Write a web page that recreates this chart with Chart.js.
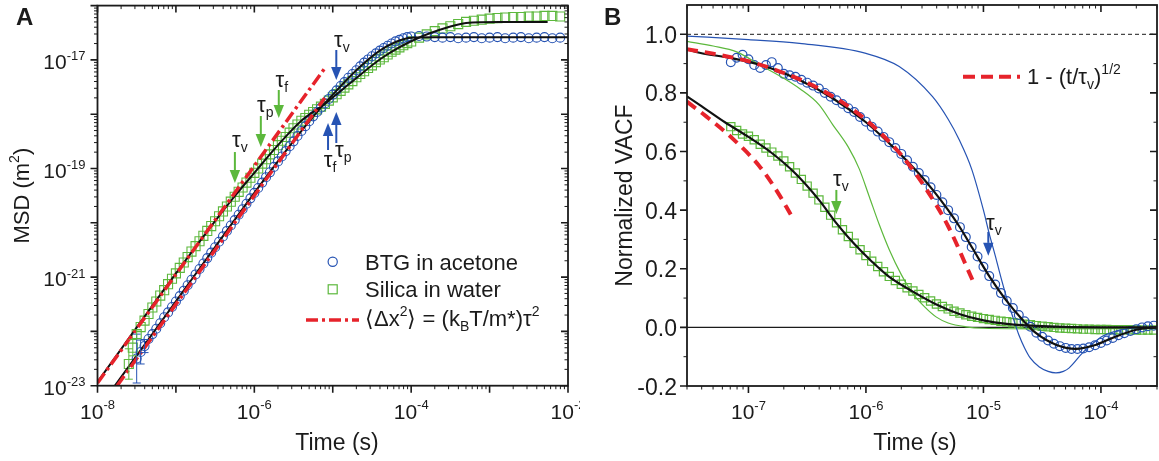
<!DOCTYPE html>
<html>
<head>
<meta charset="utf-8">
<title>MSD and VACF</title>
<script src="https://cdn.jsdelivr.net/npm/chart.js@4.4.1/dist/chart.umd.min.js"></script>
<style>
  html, body { margin: 0; padding: 0; background: #fff; }
  #wrap { position: relative; width: 1159px; height: 461px; overflow: hidden; }
  canvas { position: absolute; top: 0; }
  #msdChart { left: 0; }
  #vacfChart { left: 580px; }
</style>
</head>
<body>
<div id="wrap">
  <canvas id="msdChart" width="580" height="461"></canvas>
  <canvas id="vacfChart" width="579" height="461"></canvas>
</div>
<script>
const FONT = '"Liberation Sans", Arial, Helvetica, sans-serif';
const BLUE = '#2653b3';
const GREEN = '#5cb83c';
const RED = '#e6232b';
const INK = '#1b1b1b';

// ---------- Panel A: MSD ----------
const msdTime = [
  2.51e-8, 2.82e-8, 3.16e-8, 3.55e-8, 3.98e-8, 4.47e-8, 5.01e-8, 5.62e-8, 6.31e-8, 7.08e-8, 7.94e-8, 8.91e-8,
  1.00e-7, 1.12e-7, 1.26e-7, 1.41e-7, 1.58e-7, 1.78e-7, 2.00e-7, 2.24e-7, 2.51e-7, 2.82e-7,
  3.16e-7, 3.55e-7, 3.98e-7, 4.47e-7, 5.01e-7, 5.62e-7, 6.31e-7, 7.08e-7, 7.94e-7, 8.91e-7,
  1.00e-6, 1.12e-6, 1.26e-6, 1.41e-6, 1.58e-6, 1.78e-6, 2.00e-6, 2.24e-6, 2.51e-6, 2.82e-6,
  3.16e-6, 3.55e-6, 3.98e-6, 4.47e-6, 5.01e-6, 5.62e-6, 6.31e-6, 7.08e-6, 7.94e-6, 8.91e-6,
  1.00e-5, 1.12e-5, 1.26e-5, 1.41e-5, 1.58e-5, 1.78e-5, 2.00e-5, 2.24e-5, 2.51e-5, 2.82e-5,
  3.16e-5, 3.55e-5, 3.98e-5, 4.47e-5, 5.01e-5, 5.62e-5, 6.31e-5, 7.08e-5, 7.94e-5, 8.91e-5,
  1.00e-4, 1.26e-4, 1.58e-4, 2.00e-4, 2.51e-4, 3.16e-4, 3.98e-4, 5.01e-4, 6.31e-4, 7.94e-4,
  1.00e-3, 1.26e-3, 1.58e-3, 2.00e-3, 2.51e-3, 3.16e-3, 3.98e-3, 5.01e-3, 6.31e-3, 7.94e-3
];
const btgMsd = [
  null, null,
  3.16e-23, 4.17e-23, 5.37e-23, 7.24e-23, 8.91e-23, 1.12e-22, 1.41e-22, 1.82e-22, 2.24e-22, 2.82e-22,
  3.55e-22, 4.47e-22, 5.62e-22, 7.08e-22, 8.91e-22, 1.12e-21, 1.41e-21, 1.78e-21, 2.24e-21, 2.82e-21,
  3.55e-21, 4.47e-21, 5.62e-21, 7.08e-21, 8.91e-21, 1.12e-20, 1.41e-20, 1.78e-20, 2.24e-20, 2.82e-20,
  3.55e-20, 4.37e-20, 5.50e-20, 6.92e-20, 8.51e-20, 1.07e-19, 1.35e-19, 1.66e-19, 2.09e-19, 2.57e-19,
  3.16e-19, 3.98e-19, 4.90e-19, 6.03e-19, 7.41e-19, 9.12e-19, 1.10e-18, 1.32e-18, 1.58e-18, 1.91e-18,
  2.29e-18, 2.75e-18, 3.31e-18, 3.89e-18, 4.68e-18, 5.50e-18, 6.46e-18, 7.59e-18, 8.91e-18, 1.02e-17,
  1.17e-17, 1.32e-17, 1.48e-17, 1.66e-17, 1.82e-17, 2.00e-17, 2.19e-17, 2.34e-17, 2.51e-17, 2.63e-17,
  2.69e-17, 2.75e-17, 2.69e-17, 2.63e-17, 2.57e-17, 2.63e-17, 2.51e-17, 2.57e-17, 2.63e-17, 2.51e-17,
  2.57e-17, 2.63e-17, 2.51e-17, 2.57e-17, 2.63e-17, 2.51e-17, 2.57e-17, 2.63e-17, 2.51e-17, 2.57e-17
];
const silicaMsd = [
  2.51e-23, 5.01e-23, 8.91e-23, 1.20e-22, 1.58e-22, 2.09e-22, 2.75e-22, 3.55e-22, 4.57e-22, 5.75e-22, 7.41e-22, 9.33e-22,
  1.17e-21, 1.48e-21, 1.86e-21, 2.34e-21, 2.95e-21, 3.72e-21, 4.57e-21, 5.75e-21, 7.08e-21, 8.71e-21,
  1.07e-20, 1.32e-20, 1.62e-20, 2.00e-20, 2.45e-20, 3.02e-20, 3.72e-20, 4.47e-20, 5.50e-20, 6.76e-20,
  8.32e-20, 1.00e-19, 1.23e-19, 1.48e-19, 1.82e-19, 2.19e-19, 2.69e-19, 3.24e-19, 3.80e-19, 4.57e-19,
  5.50e-19, 6.46e-19, 7.59e-19, 8.51e-19, 9.77e-19, 1.10e-18, 1.23e-18, 1.38e-18, 1.55e-18, 1.78e-18,
  2.04e-18, 2.34e-18, 2.69e-18, 3.09e-18, 3.55e-18, 4.07e-18, 4.79e-18, 5.50e-18, 6.17e-18, 7.08e-18,
  7.94e-18, 9.12e-18, 1.02e-17, 1.12e-17, 1.26e-17, 1.41e-17, 1.55e-17, 1.70e-17, 1.86e-17, 2.04e-17,
  2.19e-17, 2.57e-17, 2.95e-17, 3.39e-17, 3.80e-17, 4.17e-17, 4.57e-17, 5.01e-17, 5.25e-17, 5.50e-17,
  5.75e-17, 5.89e-17, 6.03e-17, 6.17e-17, 6.17e-17, 6.31e-17, 6.31e-17, 6.46e-17, 6.46e-17, 6.31e-17
];
// error bar half-heights (in decades) on the first, noisy points
const btgErr = [0.45, 0.22, 0.12];
const silicaErr = [0.28, 0.15, 0.08];

const btgFitTime = [1.67e-8, 3.16e-8, 1.00e-7, 3.16e-7, 1.00e-6, 2.51e-6, 5.01e-6, 1.00e-5, 2.00e-5, 3.98e-5, 6.31e-5, 1.00e-4, 2.00e-4, 1.00e-2];
const btgFitMsd = [1.00e-23, 3.58e-23, 3.58e-22, 3.58e-21, 3.55e-20, 2.09e-19, 7.41e-19, 2.29e-18, 6.46e-18, 1.48e-17, 2.14e-17, 2.57e-17, 2.60e-17, 2.60e-17];
const silicaFitTime = [1.00e-8, 1.00e-7, 3.16e-7, 5.62e-7, 1.00e-6, 2.00e-6, 3.98e-6, 7.94e-6, 1.66e-5, 4.37e-5, 1.17e-4, 3.09e-4, 5.01e-4, 1.35e-3, 5.50e-3];
const silicaFitMsd = [1.17e-23, 1.17e-21, 1.07e-20, 3.09e-20, 8.32e-20, 2.69e-19, 7.59e-19, 1.55e-18, 3.72e-18, 1.12e-17, 2.45e-17, 4.07e-17, 4.79e-17, 5.01e-17, 5.01e-17];

// ballistic <dx^2> = (kBT/m*) t^2 lines
const ballisticSilicaTime = [1.00e-8, 7.90e-6];
const ballisticSilicaMsd = [1.12e-23, 7.00e-18];
const ballisticBtgTime = [1.78e-8, 7.90e-6];
const ballisticBtgMsd = [1.00e-23, 1.98e-18];

const msdTickExp = [-23, -21, -19, -17];
const timeTickExpA = [-8, -6, -4, -2];

// ---------- Panel B: VACF ----------
const vacfTime = [
  7.08e-8, 7.94e-8, 8.91e-8,
  1.00e-7, 1.12e-7, 1.26e-7, 1.41e-7, 1.58e-7, 1.78e-7, 2.00e-7, 2.24e-7, 2.51e-7, 2.82e-7,
  3.16e-7, 3.55e-7, 3.98e-7, 4.47e-7, 5.01e-7, 5.62e-7, 6.31e-7, 7.08e-7, 7.94e-7, 8.91e-7,
  1.00e-6, 1.12e-6, 1.26e-6, 1.41e-6, 1.58e-6, 1.78e-6, 2.00e-6, 2.24e-6, 2.51e-6, 2.82e-6,
  3.16e-6, 3.55e-6, 3.98e-6, 4.47e-6, 5.01e-6, 5.62e-6, 6.31e-6, 7.08e-6, 7.94e-6, 8.91e-6,
  1.00e-5, 1.12e-5, 1.26e-5, 1.41e-5, 1.58e-5, 1.78e-5, 2.00e-5, 2.24e-5, 2.51e-5, 2.82e-5,
  3.16e-5, 3.55e-5, 3.98e-5, 4.47e-5, 5.01e-5, 5.62e-5, 6.31e-5, 7.08e-5, 7.94e-5, 8.91e-5,
  1.00e-4, 1.12e-4, 1.26e-4, 1.41e-4, 1.58e-4, 1.78e-4, 2.00e-4, 2.24e-4, 2.51e-4, 2.82e-4
];
const btgVacf = [
  0.905, 0.920, 0.930,
  0.915, 0.895, 0.885, 0.895, 0.905, 0.885, 0.865, 0.860, 0.855, 0.845,
  0.835, 0.825, 0.815, 0.800, 0.787, 0.775, 0.762, 0.748, 0.735, 0.718,
  0.702, 0.685, 0.668, 0.650, 0.632, 0.612, 0.592, 0.570, 0.548, 0.527,
  0.503, 0.478, 0.452, 0.427, 0.400, 0.372, 0.342, 0.308, 0.274, 0.242,
  0.207, 0.175, 0.146, 0.117, 0.090, 0.066, 0.042, 0.021, 0.002, -0.018,
  -0.032, -0.045, -0.056, -0.064, -0.070, -0.074, -0.074, -0.072, -0.068, -0.061,
  -0.053, -0.045, -0.036, -0.027, -0.020, -0.012, -0.006, 0.000, 0.004, 0.006
];
const silicaVacf = [
  0.685, 0.672, 0.660,
  0.652, 0.640, 0.625, 0.612, 0.598, 0.585, 0.568, 0.548, 0.527, 0.505,
  0.482, 0.458, 0.435, 0.410, 0.383, 0.357, 0.333, 0.310, 0.287, 0.265,
  0.245, 0.226, 0.208, 0.190, 0.174, 0.160, 0.147, 0.135, 0.124, 0.112,
  0.101, 0.090, 0.080, 0.071, 0.063, 0.055, 0.049, 0.043, 0.038, 0.034,
  0.030, 0.027, 0.024, 0.021, 0.019, 0.016, 0.014, 0.011, 0.009, 0.006,
  0.004, 0.002, 0.000, -0.002, -0.003, -0.004, -0.005, -0.006, -0.006, -0.007,
  -0.007, -0.007, -0.008, -0.008, -0.008, -0.008, -0.009, -0.009, -0.009, -0.009
];

const btgVacfFitTime = [3.0e-8, 3.83e-8, 7.36e-8, 1.41e-7, 2.72e-7, 5.21e-7, 1.00e-6, 1.92e-6, 2.82e-6, 3.69e-6, 5.01e-6, 6.22e-6, 8.07e-6, 1.12e-5, 1.55e-5, 2.15e-5, 2.79e-5, 4.14e-5, 6.11e-5, 9.12e-5, 1.34e-4, 2.00e-4, 3.0e-4];
const btgVacfFit = [0.949, 0.937, 0.918, 0.890, 0.844, 0.782, 0.700, 0.595, 0.525, 0.470, 0.400, 0.345, 0.270, 0.175, 0.094, 0.026, -0.019, -0.059, -0.073, -0.059, -0.031, -0.008, 0.000];
const silicaVacfFitTime = [3.0e-8, 3.98e-8, 6.31e-8, 1.00e-7, 1.58e-7, 2.51e-7, 3.98e-7, 5.62e-7, 7.94e-7, 1.12e-6, 1.58e-6, 2.51e-6, 3.98e-6, 6.31e-6, 1.00e-5, 1.58e-5, 3.16e-5, 1.00e-4, 3.0e-4];
const silicaVacfFit = [0.788, 0.755, 0.700, 0.650, 0.595, 0.525, 0.435, 0.355, 0.285, 0.225, 0.172, 0.122, 0.078, 0.045, 0.024, 0.012, 0.004, 0.000, 0.000];

// thin lines (no hydrodynamic memory)
const btgBareTime = [3.0e-8, 1.00e-7, 2.72e-7, 1.00e-6, 1.92e-6, 3.69e-6, 5.01e-6, 6.22e-6, 7.94e-6, 1.00e-5, 1.12e-5, 1.26e-5, 1.41e-5, 1.58e-5, 1.78e-5, 2.00e-5, 2.24e-5, 2.51e-5, 2.99e-5, 3.55e-5, 4.14e-5, 4.79e-5, 5.37e-5, 6.97e-5, 8.51e-5, 1.02e-4, 1.41e-4, 1.84e-4, 3.0e-4];
const btgBare = [0.994, 0.982, 0.969, 0.935, 0.890, 0.787, 0.710, 0.640, 0.540, 0.400, 0.320, 0.245, 0.170, 0.100, 0.035, -0.025, -0.070, -0.105, -0.135, -0.150, -0.155, -0.150, -0.138, -0.087, -0.055, -0.031, -0.010, -0.003, 0.000];
const silicaBareTime = [3.0e-8, 5.01e-8, 7.94e-8, 1.26e-7, 2.00e-7, 2.72e-7, 3.98e-7, 5.21e-7, 7.08e-7, 8.79e-7, 1.07e-6, 1.30e-6, 1.58e-6, 2.00e-6, 2.49e-6, 3.16e-6, 3.98e-6, 5.01e-6, 7.08e-6, 1.00e-5, 3.16e-5, 3.0e-4];
const silicaBare = [0.976, 0.960, 0.940, 0.895, 0.850, 0.815, 0.760, 0.692, 0.615, 0.540, 0.445, 0.350, 0.265, 0.180, 0.117, 0.070, 0.035, 0.015, 0.002, -0.003, -0.005, -0.004];

// 1 - (t/tau_v)^1/2
const sqrtBtgTime = [3.0e-8, 5.01e-8, 1.00e-7, 2.00e-7, 3.98e-7, 7.94e-7, 1.26e-6, 2.00e-6, 3.16e-6, 5.01e-6, 8.10e-6];
const sqrtBtg = [0.949, 0.934, 0.908, 0.868, 0.815, 0.740, 0.672, 0.588, 0.480, 0.345, 0.160];
const sqrtSilicaTime = [3.0e-8, 4.37e-8, 7.30e-8, 1.24e-7, 1.78e-7, 2.29e-7];
const sqrtSilica = [0.770, 0.720, 0.645, 0.550, 0.460, 0.385];

const timeTickExpB = [-7, -6, -5, -4];
const vacfTicks = [-0.2, 0.0, 0.2, 0.4, 0.6, 0.8, 1.0];
const vacfMinorTicks = [-0.1, 0.1, 0.3, 0.5, 0.7, 0.9];
const vacfRefDashed = 1.0;
const vacfRefSolid = 0.0;

// ---------- helpers ----------
function xy(ts, vs) {
  return ts.map((t, i) => ({ x: t, y: vs[i] })).filter(p => p.y !== null);
}
function markers(data, style, color, r, bw) {
  return { type: 'scatter', data, showLine: false, pointStyle: style, pointRadius: r,
    pointBorderWidth: bw || 1, pointBorderColor: color, pointBackgroundColor: 'rgba(0,0,0,0)', order: 5 };
}
function curve(data, color, width, dash, order) {
  return { type: 'line', data, pointRadius: 0, borderColor: color, borderWidth: width,
    borderDash: dash || [], cubicInterpolationMode: 'monotone', fill: false, order };
}
function rich(ctx, parts, x, y, align) {
  let w = 0;
  parts.forEach(p => { ctx.font = (p[3] || '') + p[1] + 'px ' + FONT; w += ctx.measureText(p[0]).width; });
  let cx = align === 'center' ? x - w / 2 : align === 'right' ? x - w : x;
  ctx.textAlign = 'left';
  ctx.textBaseline = 'alphabetic';
  parts.forEach(p => {
    ctx.font = (p[3] || '') + p[1] + 'px ' + FONT;
    ctx.fillText(p[0], cx, y + (p[2] || 0));
    cx += ctx.measureText(p[0]).width;
  });
}
function logTicks(min, max) {
  const major = [], minor = [];
  for (let e = Math.floor(Math.log10(min)); e <= Math.ceil(Math.log10(max)); e++) {
    for (let m = 1; m <= 9; m++) {
      const v = m * Math.pow(10, e);
      if (v < min * 0.999 || v > max * 1.001) continue;
      (m === 1 ? major : minor).push(v);
    }
  }
  return { major, minor };
}
function drawFrame(chart, xt, yt) {
  const { ctx, chartArea: a } = chart;
  const xs = chart.scales.x, ys = chart.scales.y;
  ctx.save();
  ctx.strokeStyle = INK;
  ctx.lineWidth = 1.8;
  ctx.strokeRect(a.left, a.top, a.right - a.left, a.bottom - a.top);
  const tick = (xv, yv, len, w) => {
    ctx.lineWidth = w;
    ctx.beginPath();
    xv.forEach(v => {
      const p = xs.getPixelForValue(v);
      ctx.moveTo(p, a.bottom); ctx.lineTo(p, a.bottom + len);
      ctx.moveTo(p, a.top); ctx.lineTo(p, a.top + len);
    });
    yv.forEach(v => {
      const p = ys.getPixelForValue(v);
      ctx.moveTo(a.left - len, p); ctx.lineTo(a.left, p);
      ctx.moveTo(a.right - len, p); ctx.lineTo(a.right, p);
    });
    ctx.stroke();
  };
  tick(xt.major, yt.major, 7, 1.6);
  tick(xt.minor, yt.minor, 3.5, 1);
  ctx.restore();
}
function drawArrow(ctx, x, y0, y1, color) {
  const dir = Math.sign(y1 - y0), head = 13, half = 5.2;
  ctx.strokeStyle = color; ctx.fillStyle = color; ctx.lineWidth = 2;
  ctx.beginPath(); ctx.moveTo(x, y0); ctx.lineTo(x, y1 - dir * head); ctx.stroke();
  ctx.beginPath();
  ctx.moveTo(x - half, y1 - dir * head); ctx.lineTo(x + half, y1 - dir * head); ctx.lineTo(x, y1);
  ctx.closePath(); ctx.fill();
}
function tauArrows(chart, list) {
  const { ctx } = chart;
  const xs = chart.scales.x, ys = chart.scales.y;
  ctx.save();
  list.forEach(a => {
    const x = xs.getPixelForValue(a.t);
    const y0 = ys.getPixelForValue(a.from), y1 = ys.getPixelForValue(a.to);
    drawArrow(ctx, x, y0, y1, a.color);
    ctx.fillStyle = INK;
    ctx.font = '22px ' + FONT;
    const w = ctx.measureText('τ').width;
    rich(ctx, [['τ', 22], [a.sub, 14, 5]], x + a.lx - w / 2, y0 + a.ly, 'left');
  });
  ctx.restore();
}

// ---------- Panel A chart ----------
const msdX = logTicks(1e-8, 1e-2), msdY = logTicks(1e-23, 1e-16);
const tauA = [
  { t: 5.65e-7, from: 2.01e-19, to: 5.41e-20, sub: 'v', color: GREEN, lx: 1.5, ly: -5 },
  { t: 1.21e-6, from: 9.27e-19, to: 2.49e-19, sub: 'p', color: GREEN, lx: 0.5, ly: -4 },
  { t: 2.05e-6, from: 2.79e-18, to: 8.50e-19, sub: 'f', color: GREEN, lx: 1, ly: -3 },
  { t: 1.11e-5, from: 1.52e-17, to: 4.27e-18, sub: 'v', color: BLUE, lx: 2, ly: -3 },
  { t: 8.71e-6, from: 2.19e-19, to: 6.89e-19, sub: 'f', color: BLUE, lx: 0, ly: 17 },
  { t: 1.11e-5, from: 2.95e-19, to: 1.10e-18, sub: 'p', color: BLUE, lx: 3, ly: 14 }
];
const msdDecor = {
  id: 'msdDecor',
  afterDatasetsDraw(chart) {
    const { ctx, chartArea: a } = chart;
    const xs = chart.scales.x, ys = chart.scales.y;
    ctx.save();
    ctx.beginPath(); ctx.rect(a.left, a.top, a.right - a.left, a.bottom - a.top); ctx.clip();
    ctx.lineWidth = 1;
    [[0, btgErr, BLUE], [1, silicaErr, GREEN]].forEach(([di, errs, col]) => {
      const pts = chart.data.datasets[di].data;
      ctx.strokeStyle = col;
      errs.forEach((e, i) => {
        const p = pts[i];
        const px = xs.getPixelForValue(p.x);
        const hi = ys.getPixelForValue(p.y * Math.pow(10, e));
        const lo = ys.getPixelForValue(p.y / Math.pow(10, e));
        ctx.beginPath();
        ctx.moveTo(px, hi); ctx.lineTo(px, lo);
        ctx.moveTo(px - 4, hi); ctx.lineTo(px + 4, hi);
        ctx.moveTo(px - 4, lo); ctx.lineTo(px + 4, lo);
        ctx.stroke();
      });
    });
    ctx.restore();
  },
  afterDraw(chart) {
    const { ctx, chartArea: a } = chart;
    const xs = chart.scales.x, ys = chart.scales.y;
    drawFrame(chart, msdX, msdY);
    ctx.save();
    ctx.fillStyle = INK;
    timeTickExpA.forEach(e => {
      rich(ctx, [['10', 21], [String(e), 13, -9.5]], xs.getPixelForValue(Math.pow(10, e)), 418.5, 'center');
    });
    msdTickExp.forEach(e => {
      rich(ctx, [['10', 21], [String(e), 13, -8.5]], a.left - 12, ys.getPixelForValue(Math.pow(10, e)) + 9, 'right');
    });
    rich(ctx, [['Time (s)', 23]], 337, 450, 'center');
    ctx.save();
    ctx.translate(29, (a.top + a.bottom) / 2);
    ctx.rotate(-Math.PI / 2);
    rich(ctx, [['MSD (m', 22], ['2', 14, -10], [')', 22]], 0, 0, 'center');
    ctx.restore();
    rich(ctx, [['A', 24, 0, 'bold ']], 16, 25, 'left');

    // legend
    ctx.strokeStyle = BLUE; ctx.lineWidth = 1.2;
    ctx.beginPath(); ctx.arc(332.7, 261.7, 4.6, 0, Math.PI * 2); ctx.stroke();
    ctx.strokeStyle = GREEN;
    ctx.strokeRect(328.2, 284.8, 9, 9);
    ctx.strokeStyle = RED; ctx.lineWidth = 3.5; ctx.setLineDash([12, 4, 3, 4]);
    ctx.beginPath(); ctx.moveTo(306, 320); ctx.lineTo(359, 320); ctx.stroke();
    ctx.setLineDash([]);
    ctx.fillStyle = INK;
    rich(ctx, [['BTG in acetone', 22]], 365, 270, 'left');
    rich(ctx, [['Silica in water', 22]], 365, 297, 'left');
    rich(ctx, [['\u27E8\u0394x', 22], ['2', 14, -10], ['\u27E9 = (k', 22], ['B', 14, 5], ['T/m*)\u03C4', 22], ['2', 14, -10]], 365, 326, 'left');
    ctx.restore();
    tauArrows(chart, tauA);
  }
};

new Chart(document.getElementById('msdChart'), {
  type: 'scatter',
  data: {
    datasets: [
      markers(xy(msdTime, btgMsd), 'circle', BLUE, 4.5, 1.1),
      markers(xy(msdTime, silicaMsd), 'rect', GREEN, 6.4, 1.1),
      curve(xy(btgFitTime, btgFitMsd), '#111', 2, null, 2),
      curve(xy(silicaFitTime, silicaFitMsd), '#111', 2, null, 2),
      curve(xy(ballisticSilicaTime, ballisticSilicaMsd), RED, 3.5, [12, 4, 3, 4], 1),
      curve(xy(ballisticBtgTime, ballisticBtgMsd), RED, 3.5, [12, 4, 3, 4], 1)
    ]
  },
  options: {
    responsive: false, animation: false, devicePixelRatio: 1, events: [],
    layout: { padding: { top: 5.6, right: 12, left: 0, bottom: 0 }, autoPadding: false },
    plugins: { legend: { display: false }, tooltip: { enabled: false } },
    scales: {
      x: { type: 'logarithmic', min: 1e-8, max: 1e-2, ticks: { display: false }, grid: { display: false }, border: { display: false },
           afterFit: s => { s.height = 75.3; } },
      y: { type: 'logarithmic', min: 1e-23, max: 1e-16, ticks: { display: false }, grid: { display: false }, border: { display: false },
           afterFit: s => { s.width = 97.5; } }
    }
  },
  plugins: [msdDecor]
});

// ---------- Panel B chart ----------
const vacfX = logTicks(3e-8, 3e-4);
const tauB = [
  { t: 5.6e-7, from: 0.469, to: 0.387, sub: 'v', color: GREEN, lx: 1, ly: -4 },
  { t: 1.1e-5, from: 0.326, to: 0.244, sub: 'v', color: BLUE, lx: 2, ly: -2 }
];
const vacfDecor = {
  id: 'vacfDecor',
  beforeDatasetsDraw(chart) {
    const { ctx, chartArea: a } = chart;
    const ys = chart.scales.y;
    ctx.save();
    ctx.strokeStyle = INK;
    ctx.lineWidth = 1;
    ctx.setLineDash([4, 3]);
    let p = ys.getPixelForValue(vacfRefDashed);
    ctx.beginPath(); ctx.moveTo(a.left, p); ctx.lineTo(a.right, p); ctx.stroke();
    ctx.setLineDash([]);
    ctx.lineWidth = 1.2;
    p = ys.getPixelForValue(vacfRefSolid);
    ctx.beginPath(); ctx.moveTo(a.left, p); ctx.lineTo(a.right, p); ctx.stroke();
    ctx.restore();
  },
  afterDraw(chart) {
    const { ctx, chartArea: a } = chart;
    const xs = chart.scales.x, ys = chart.scales.y;
    drawFrame(chart, vacfX, { major: vacfTicks, minor: vacfMinorTicks });
    ctx.save();
    ctx.fillStyle = INK;
    timeTickExpB.forEach(e => {
      rich(ctx, [['10', 21], [String(e), 13, -9.5]], xs.getPixelForValue(Math.pow(10, e)), 419.3, 'center');
    });
    vacfTicks.forEach(v => {
      rich(ctx, [[v.toFixed(1), 23]], a.left - 10, ys.getPixelForValue(v) + 8.5, 'right');
    });
    rich(ctx, [['Time (s)', 23]], 335, 450, 'center');
    ctx.save();
    ctx.translate(52, (a.top + a.bottom) / 2);
    ctx.rotate(-Math.PI / 2);
    rich(ctx, [['Normalized VACF', 23]], 0, 0, 'center');
    ctx.restore();
    rich(ctx, [['B', 24, 0, 'bold ']], 24, 25, 'left');

    // legend
    ctx.strokeStyle = RED; ctx.lineWidth = 4; ctx.setLineDash([12, 6]);
    ctx.beginPath(); ctx.moveTo(383, 76.7); ctx.lineTo(440, 76.7); ctx.stroke();
    ctx.setLineDash([]);
    ctx.fillStyle = INK;
    rich(ctx, [['1 - (t/\u03C4', 22], ['v', 14, 5], [')', 22], ['1/2', 14, -10]], 447, 84, 'left');
    ctx.restore();
    tauArrows(chart, tauB);
  }
};

new Chart(document.getElementById('vacfChart'), {
  type: 'scatter',
  data: {
    datasets: [
      markers(xy(vacfTime, btgVacf), 'circle', BLUE, 4.4, 1.2),
      markers(xy(vacfTime, silicaVacf), 'rect', GREEN, 5.8, 1.2),
      curve(xy(btgBareTime, btgBare), BLUE, 1.2, null, 3),
      curve(xy(silicaBareTime, silicaBare), GREEN, 1.2, null, 3),
      curve(xy(btgVacfFitTime, btgVacfFit), '#111', 2.2, null, 2),
      curve(xy(silicaVacfFitTime, silicaVacfFit), '#111', 2.2, null, 2),
      curve(xy(sqrtBtgTime, sqrtBtg), RED, 4, [11, 7], 1),
      curve(xy(sqrtSilicaTime, sqrtSilica), RED, 4, [11, 7], 1)
    ]
  },
  options: {
    responsive: false, animation: false, devicePixelRatio: 1, events: [],
    layout: { padding: { top: 5, right: 2, left: 0, bottom: 0 }, autoPadding: false },
    plugins: { legend: { display: false }, tooltip: { enabled: false } },
    scales: {
      x: { type: 'logarithmic', min: 3e-8, max: 3e-4, ticks: { display: false }, grid: { display: false }, border: { display: false },
           afterFit: s => { s.height = 75; } },
      y: { type: 'linear', min: -0.2, max: 1.1, ticks: { display: false }, grid: { display: false }, border: { display: false },
           afterFit: s => { s.width = 107; } }
    }
  },
  plugins: [vacfDecor]
});
</script>
</body>
</html>
